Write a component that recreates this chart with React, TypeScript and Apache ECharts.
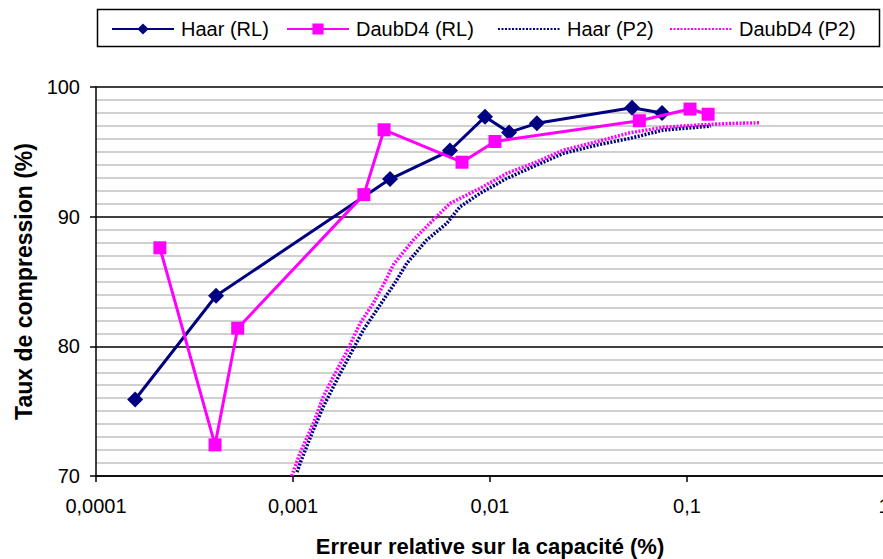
import React, { useEffect, useRef } from "react";
import * as echarts from "echarts";

const haarRLX = [0.000158, 0.000407, 0.00311, 0.00626, 0.00943, 0.0125, 0.0173, 0.0526, 0.0747];
const haarRLY = [75.9, 83.9, 92.9, 95.1, 97.7, 96.5, 97.2, 98.4, 98.0];

const daubRLX = [0.000211, 0.000402, 0.000524, 0.00229, 0.0029, 0.00721, 0.0106, 0.0573, 0.1036, 0.128];
const daubRLY = [87.6, 72.4, 81.4, 91.7, 96.7, 94.2, 95.8, 97.4, 98.3, 97.9];

const haarP2X = [0.001048, 0.001094, 0.001268, 0.001425, 0.001667, 0.001947, 0.002275, 0.00266, 0.00336, 0.00378, 0.00477, 0.00603, 0.00704, 0.0089, 0.01216, 0.01726, 0.02356, 0.0348, 0.05136, 0.0758, 0.112, 0.1324];
const haarP2Y = [70.3, 71.1, 73.55, 75.34, 77.4, 79.33, 81.26, 82.8, 85.1, 86.4, 88.2, 89.48, 90.76, 91.8, 92.95, 93.98, 94.88, 95.52, 96.04, 96.68, 96.89, 96.99];

const daubP2X = [0.000985, 0.001085, 0.001268, 0.001425, 0.001602, 0.001874, 0.002188, 0.002557, 0.00293, 0.00323, 0.00408, 0.00496, 0.00627, 0.0089, 0.01216, 0.01726, 0.02356, 0.0348, 0.05136, 0.0758, 0.112, 0.1654, 0.2348];
const daubP2Y = [70.0, 71.75, 74.06, 76.11, 77.66, 79.58, 81.77, 83.32, 84.98, 86.3, 88.2, 89.5, 91.03, 92.18, 93.34, 94.23, 95.13, 95.78, 96.47, 96.89, 97.06, 97.19, 97.24];

const xTicks = [0.0001, 0.001, 0.01, 0.1, 1];
const xTickLabels = ["0,0001", "0,001", "0,01", "0,1", "1"];

const seriesNames = ["Haar (RL)", "DaubD4 (RL)", "Haar (P2)", "DaubD4 (P2)"];
const NAVY = "#000080";
const MAGENTA = "#FF00FF";

const zip = (xs: number[], ys: number[]) => xs.map((x, i) => [x, ys[i]]);

export default function App() {
  const ref = useRef<HTMLDivElement>(null);
  useEffect(() => {
    if (!ref.current) return;
    const chart = echarts.init(ref.current, null, { renderer: "svg" });
    const font = "Arial, 'Liberation Sans', sans-serif";
    const legendLefts = [106, 281, 492, 664];
    const legends = seriesNames.map((name, i) => ({
      left: legendLefts[i],
      top: 14,
      itemWidth: 62,
      itemHeight: 14,
      itemGap: 0,
      textStyle: { fontSize: 20, color: "#000", fontFamily: font, padding: [0, 0, 0, 2] },
      data: i >= 2 ? [{ name, itemStyle: { opacity: 0 } }] : [name],
    }));
    chart.setOption({
      animation: false,
      backgroundColor: "#ffffff",
      textStyle: { fontFamily: font },
      graphic: [
        {
          type: "rect",
          shape: { x: 97.5, y: 9.5, width: 782, height: 37 },
          style: { fill: "none", stroke: "#000", lineWidth: 1.5 },
          z: 10,
        },
      ],
      legend: legends,
      grid: { left: 96, top: 87, width: 788, height: 389, outerBoundsMode: "none", containLabel: false },
      xAxis: {
        type: "log",
        logBase: 10,
        min: 0.0001,
        max: 1,
        name: "Erreur relative sur la capacité (%)",
        nameLocation: "middle",
        nameGap: 59,
        nameTextStyle: { fontSize: 22, fontWeight: "bold", color: "#000", fontFamily: font },
        axisLine: { show: true, onZero: false, lineStyle: { color: "#000", width: 1.5 } },
        axisTick: { show: true, length: 6, lineStyle: { color: "#000", width: 1.5 } },
        minorTick: { show: false },
        splitLine: { show: false },
        axisLabel: {
          fontSize: 20,
          color: "#000",
          margin: 20,
          showMaxLabel: true,
          formatter: (v: number) => {
            const idx = xTicks.findIndex((t) => Math.abs(Math.log10(t) - Math.log10(v)) < 1e-6);
            return idx >= 0 ? xTickLabels[idx] : "";
          },
        },
      },
      yAxis: {
        type: "value",
        min: 70,
        max: 100,
        interval: 10,
        name: "Taux de compression (%)",
        nameLocation: "middle",
        nameGap: 61,
        nameTextStyle: { fontSize: 23, fontWeight: "bold", color: "#000", fontFamily: font },
        axisLine: { show: true, lineStyle: { color: "#000", width: 1.5 } },
        axisTick: { show: true, length: 6, lineStyle: { color: "#000", width: 1.5 } },
        axisLabel: { fontSize: 20, color: "#000", margin: 16 },
        splitLine: { show: true, lineStyle: { color: "#000", width: 1.5 } },
        minorTick: { show: false, splitNumber: 10 },
        minorSplitLine: { show: true, lineStyle: { color: "#c0c0c0", width: 1.5 } },
      },
      series: [
        {
          name: seriesNames[0],
          type: "line",
          data: zip(haarRLX, haarRLY),
          color: NAVY,
          lineStyle: { color: NAVY, width: 3 },
          symbol: "diamond",
          symbolSize: 16,
          itemStyle: { color: NAVY },
          z: 3,
        },
        {
          name: seriesNames[1],
          type: "line",
          data: zip(daubRLX, daubRLY),
          color: MAGENTA,
          lineStyle: { color: MAGENTA, width: 3 },
          symbol: "rect",
          symbolSize: 13,
          itemStyle: { color: MAGENTA },
          z: 4,
        },
        {
          name: seriesNames[2],
          type: "line",
          data: zip(haarP2X, haarP2Y),
          color: NAVY,
          showSymbol: false,
          symbol: "none",
          lineStyle: { color: NAVY, width: 3.5, type: [2, 1.5] },
          z: 2,
        },
        {
          name: seriesNames[3],
          type: "line",
          data: zip(daubP2X, daubP2Y),
          color: MAGENTA,
          showSymbol: false,
          symbol: "none",
          lineStyle: { color: MAGENTA, width: 3.5, type: [2, 1.5] },
          z: 2,
        },
      ],
    });
    return () => chart.dispose();
  }, []);
  return (
    <div
      ref={ref}
      style={{ position: "fixed", left: 0, top: 0, width: 883, height: 559 }}
    />
  );
}
